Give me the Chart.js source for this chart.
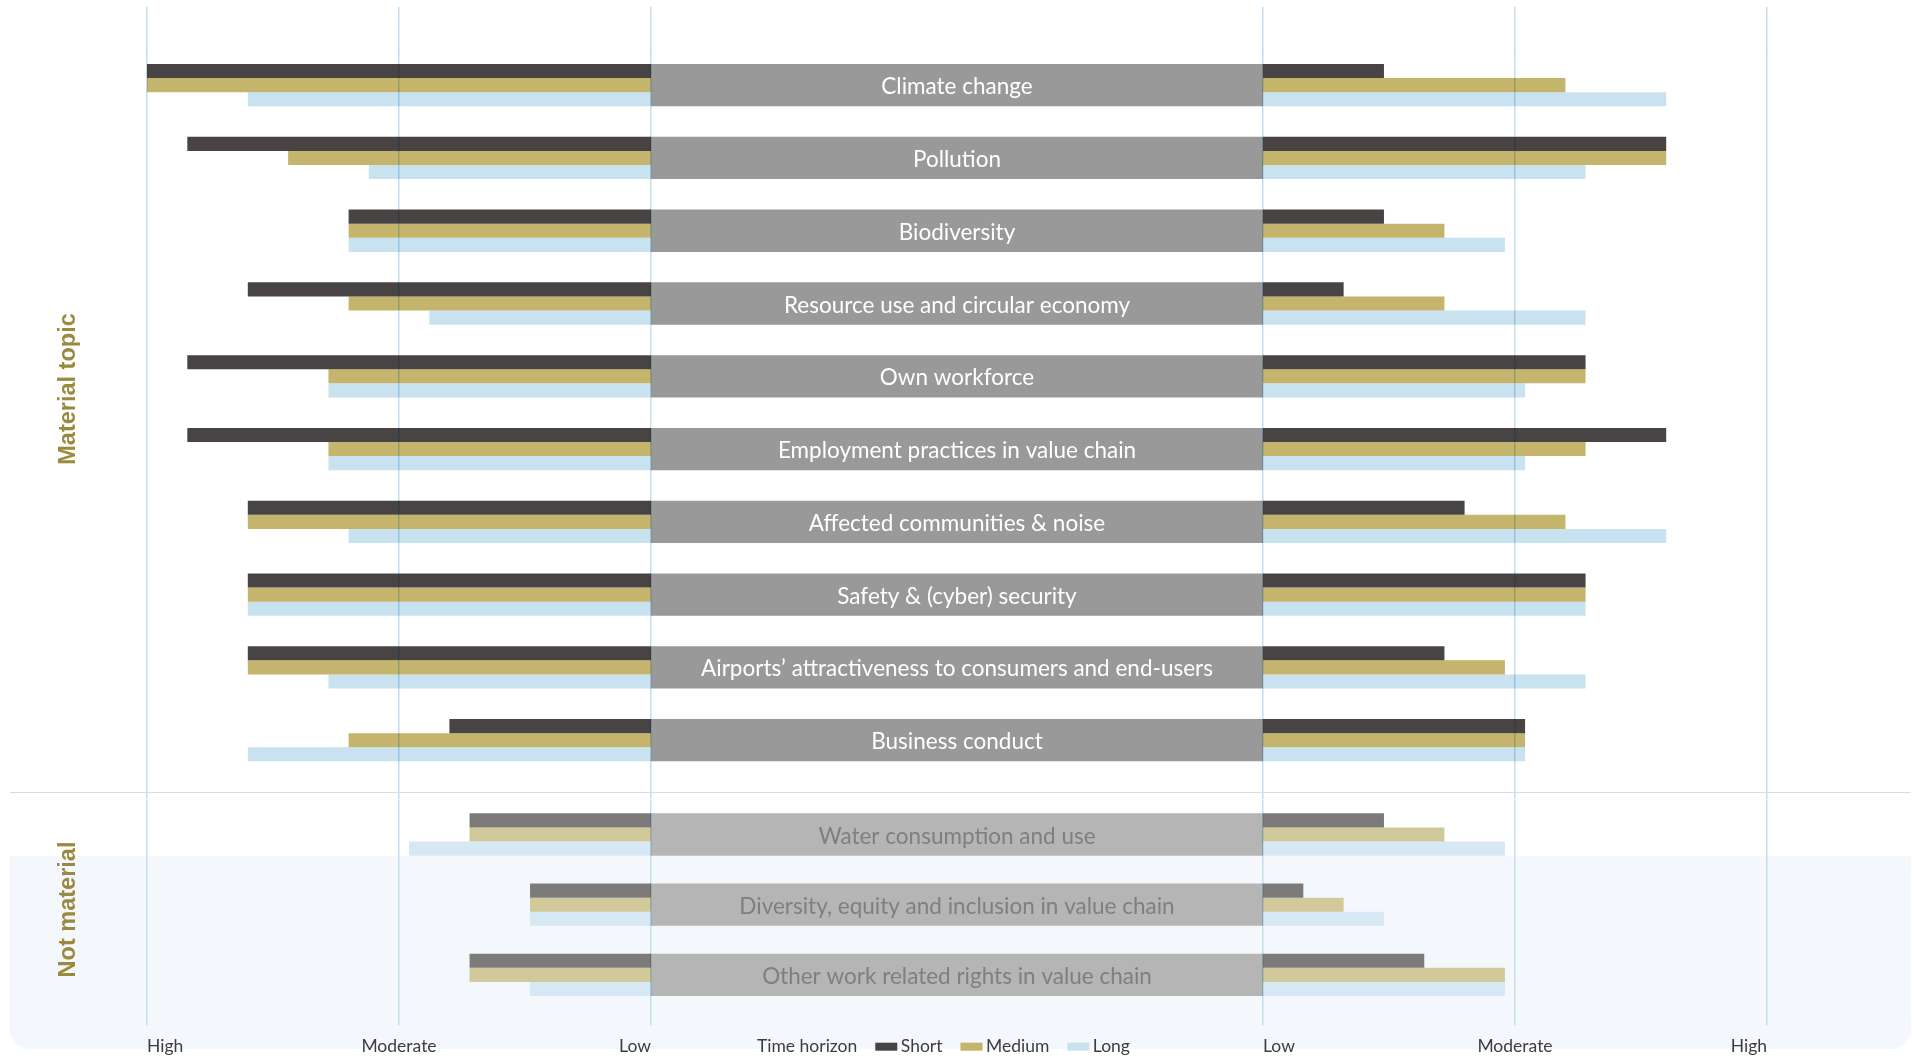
<!DOCTYPE html>
<html><head><meta charset="utf-8">
<script src="https://cdn.jsdelivr.net/npm/chart.js@4.4.1/dist/chart.umd.min.js"></script>
<style>
html,body{margin:0;padding:0;background:#fff;width:1917px;height:1061px;overflow:hidden;}
#wrap{position:relative;width:1917px;height:1061px;}
#bg{position:absolute;left:10px;top:856px;width:1901px;height:193px;background:#f4f8fc;border-radius:0 0 20px 20px;}
#sep{position:absolute;left:10px;top:792px;width:1901px;height:1px;background:#c9e1ef;}
canvas{position:absolute;left:0;}
#cA{top:0;}
#cB{top:792px;}
</style></head>
<body>
<div id="wrap">
  <div id="bg"></div>
  <canvas id="cA" width="1917" height="792"></canvas>
  <canvas id="cB" width="1917" height="269"></canvas>
  <div id="sep"></div>
</div>
<script>
// ---------- DATA ----------
const TOPICS = [
  'Climate change',
  'Pollution',
  'Biodiversity',
  'Resource use and circular economy',
  'Own workforce',
  'Employment practices in value chain',
  'Affected communities & noise',
  'Safety & (cyber) security',
  'Airports\u2019 attractiveness to consumers and end-users',
  'Business conduct',
  'Water consumption and use',
  'Diversity, equity and inclusion in value chain',
  'Other work related rights in value chain'
];
const MATERIAL_COUNT = 10;
const GROUP_TITLES = ['Material topic', 'Not material'];

// values: 0 = Low, 1 = Moderate, 2 = High
const LEFT_SHORT   = [2.00, 1.84, 1.20, 1.60, 1.84, 1.84, 1.60, 1.60, 1.60, 0.80, 0.72, 0.48, 0.72];
const LEFT_MEDIUM  = [2.00, 1.44, 1.20, 1.20, 1.28, 1.28, 1.60, 1.60, 1.60, 1.20, 0.72, 0.48, 0.72];
const LEFT_LONG    = [1.60, 1.12, 1.20, 0.88, 1.28, 1.28, 1.20, 1.60, 1.28, 1.60, 0.96, 0.48, 0.48];
const RIGHT_SHORT  = [0.48, 1.60, 0.48, 0.32, 1.28, 1.60, 0.80, 1.28, 0.72, 1.04, 0.48, 0.16, 0.64];
const RIGHT_MEDIUM = [1.20, 1.60, 0.72, 0.72, 1.28, 1.28, 1.20, 1.28, 0.96, 1.04, 0.72, 0.32, 0.96];
const RIGHT_LONG   = [1.60, 1.28, 0.96, 1.28, 1.04, 1.04, 1.60, 1.28, 1.28, 1.04, 0.96, 0.48, 0.96];

const SERIES = ['Short', 'Medium', 'Long'];
const LEGEND_TITLE = 'Time horizon';
const TICK_LEVELS = [2, 1, 0];                 // High, Moderate, Low (outer to inner)
const TICK_LABELS = ['High', 'Moderate', 'Low', 'Low', 'Moderate', 'High'];

// ---------- STYLE ----------
const GAP = 1.2143; // half width of the centre label column, in level units
const COLORS_MAT = ['#484444', '#c4b46c', '#c9e2ef'];
const COLORS_NOT = ['#7c7b79', '#d1c999', '#d5e8f3'];
const BOX_MAT = '#999999';
const BOX_NOT = '#b5b5b5';
const GRID = '#c2ddec';
const FONT = 'Lato, "Open Sans", sans-serif';

const TICK_POS = [
  ...TICK_LEVELS.map(v => -(GAP + v)),
  ...TICK_LEVELS.slice().reverse().map(v => GAP + v)
];

function buildDatasets(from, to, colors, boxColor, cp) {
  const part = a => a.slice(from, to);
  const left = a => part(a).map(v => [-(GAP + v), -GAP]);
  const right = a => part(a).map(v => [GAP, GAP + v]);
  const common = { categoryPercentage: cp, barPercentage: 1, borderWidth: 0 };
  const L = [LEFT_SHORT, LEFT_MEDIUM, LEFT_LONG];
  const R = [RIGHT_SHORT, RIGHT_MEDIUM, RIGHT_LONG];
  const ds = [];
  SERIES.forEach((s, i) => {
    ds.push(Object.assign({ label: s, stack: s, data: left(L[i]), backgroundColor: colors[i] }, common));
    ds.push(Object.assign({ label: s, stack: s, data: right(R[i]), backgroundColor: colors[i] }, common));
  });
  ds.push(Object.assign({ label: 'topic', grouped: false, data: part(TOPICS).map(() => [-GAP, GAP]), backgroundColor: boxColor }, common));
  return ds;
}

function xAxis(position, tickLength, onArea) {
  return {
    type: 'linear', position, min: -(GAP + 2), max: GAP + 2, stacked: false,
    ticks: { display: false, autoSkip: false },
    border: { display: false },
    grid: { color: GRID, lineWidth: 1.5, tickLength, drawTicks: true, drawOnChartArea: onArea, z: 1 },
    afterBuildTicks: axis => { axis.ticks = TICK_POS.map(v => ({ value: v })); }
  };
}

function makePlugin(textColor, title, titleY, extra) {
  return {
    id: 'deco',
    afterDatasetsDraw(chart) {
      const ctx = chart.ctx;
      const meta = chart.getDatasetMeta(chart.data.datasets.length - 1);
      ctx.save();
      ctx.font = '22.5px ' + FONT;
      ctx.fillStyle = textColor;
      ctx.textAlign = 'center';
      ctx.textBaseline = 'alphabetic';
      meta.data.forEach((el, i) => {
        const cx = (el.x + el.base) / 2;
        ctx.fillText(chart.data.labels[i], cx, el.y + 9);
      });
      ctx.restore();
      ctx.globalCompositeOperation = 'multiply';
    },
    afterDraw(chart) {
      const ctx = chart.ctx;
      ctx.globalCompositeOperation = 'source-over';
      ctx.save();
      ctx.translate(69, titleY);
      ctx.rotate(-Math.PI / 2);
      ctx.font = 'bold 23.5px "Liberation Sans", Arial, sans-serif';
      ctx.fillStyle = '#9a8a3f';
      ctx.textAlign = 'center';
      ctx.textBaseline = 'middle';
      ctx.fillText(title, 0, 0);
      ctx.restore();
      if (extra) extra(chart);
    }
  };
}

function drawAxisAndLegend(chart) {
  const ctx = chart.ctx;
  const xs = chart.scales.x;
  const y = 260;
  ctx.save();
  ctx.font = '17.5px ' + FONT;
  ctx.fillStyle = '#3d3d3d';
  ctx.textBaseline = 'alphabetic';
  const aligns = ['left', 'center', 'right', 'left', 'center', 'right'];
  TICK_POS.forEach((v, i) => {
    ctx.textAlign = aligns[i];
    ctx.fillText(TICK_LABELS[i], xs.getPixelForValue(v), y);
  });
  // legend
  ctx.textAlign = 'left';
  let x = 757;
  ctx.fillText(LEGEND_TITLE, x, y);
  x += ctx.measureText(LEGEND_TITLE).width + 18;
  SERIES.forEach((s, i) => {
    ctx.fillStyle = COLORS_MAT[i];
    ctx.fillRect(x, 250.7, 22, 8);
    x += 25.5;
    ctx.fillStyle = '#3d3d3d';
    ctx.fillText(s, x, y);
    x += ctx.measureText(s).width + 18;
  });
  ctx.restore();
}

function makeChart(id, from, to, colors, boxColor, textColor, cp, padding, topTick, bottomTick, title, titleY, extra) {
  return new Chart(document.getElementById(id), {
    type: 'bar',
    data: { labels: TOPICS.slice(from, to), datasets: buildDatasets(from, to, colors, boxColor, cp) },
    options: {
      indexAxis: 'y',
      responsive: false,
      animation: false,
      devicePixelRatio: 1,
      events: [],
      layout: { padding },
      plugins: { legend: { display: false }, tooltip: { enabled: false } },
      scales: {
        y: { type: 'category', display: false, offset: true },
        xTop: xAxis('top', topTick, false),
        x: xAxis('bottom', bottomTick, true)
      }
    },
    plugins: [makePlugin(textColor, title, titleY, extra)]
  });
}

makeChart('cA', 0, MATERIAL_COUNT, COLORS_MAT, BOX_MAT, '#ffffff', 0.5814,
  { left: 147, right: 150, top: 7, bottom: 0 }, 41.76, 15.4, GROUP_TITLES[0], 389, null);
makeChart('cB', MATERIAL_COUNT, TOPICS.length, COLORS_NOT, BOX_NOT, '#7f7f7f', 0.6026,
  { left: 147, right: 150, top: 0, bottom: 36 }, 7.4, 15, GROUP_TITLES[1], 117.5, drawAxisAndLegend);
</script>
</body></html>
